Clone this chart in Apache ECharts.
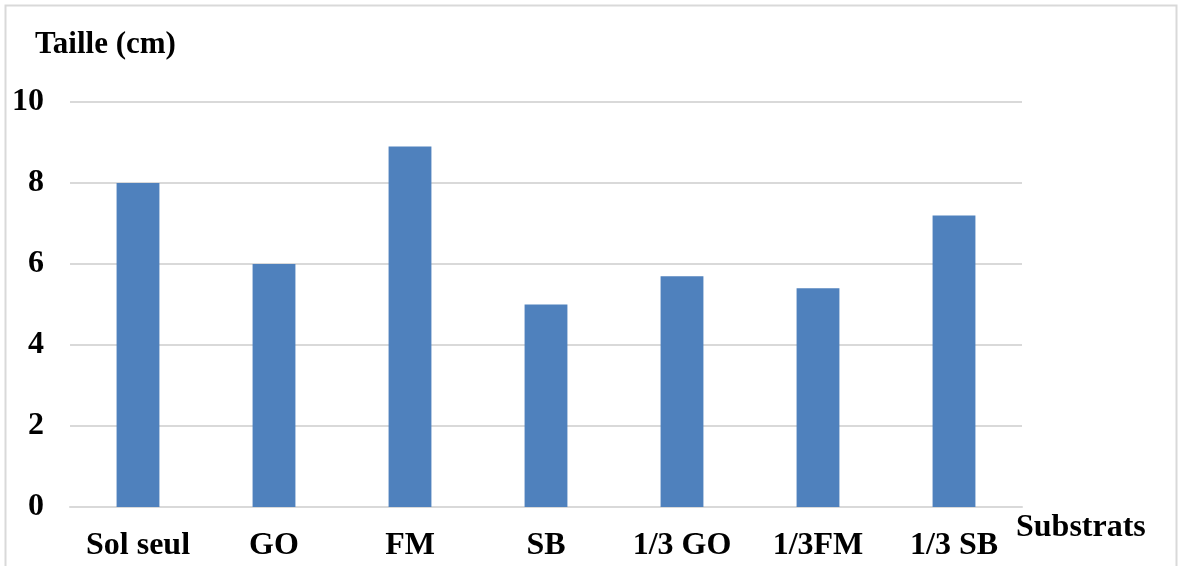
<!DOCTYPE html>
<html><head><meta charset="utf-8">
<script src="https://cdn.jsdelivr.net/npm/echarts@6/dist/echarts.min.js"></script>
<style>html,body{margin:0;padding:0;background:#fff}#c{width:1178px;height:566px}</style>
</head><body><div id="c"></div>
<script>
const categories = ['Sol seul', 'GO', 'FM', 'SB', '1/3 GO', '1/3FM', '1/3 SB'];
const tailleValues = [8.0, 6.0, 8.9, 5.0, 5.7, 5.4, 7.2];
const yTicks = [0, 2, 4, 6, 8, 10];
const yTitle = 'Taille (cm)';
const xTitle = 'Substrats';

const FONT = '"Liberation Serif", "Times New Roman", serif';
const chart = echarts.init(document.getElementById('c'), null, {renderer: 'canvas'});
chart.setOption({
  animation: false,
  backgroundColor: '#ffffff',
  grid: {left: 70, right: 156, top: 102, bottom: 59, containLabel: false},
  xAxis: {
    type: 'category',
    data: categories,
    axisLine: {show: true, lineStyle: {color: '#d9d9d9', width: 2}},
    axisTick: {show: false},
    axisLabel: {color: '#000', fontFamily: FONT, fontWeight: 'bold', fontSize: 32, margin: 23, interval: 0}
  },
  yAxis: {
    type: 'value',
    min: yTicks[0], max: yTicks[yTicks.length - 1], interval: 2,
    axisLine: {show: false},
    axisTick: {show: false},
    splitLine: {lineStyle: {color: '#d9d9d9', width: 2}},
    axisLabel: {color: '#000', fontFamily: FONT, fontWeight: 'bold', fontSize: 32, margin: 26}
  },
  graphic: [
    {type: 'rect', shape: {x: 5.5, y: 5.5, width: 1171, height: 600}, style: {fill: 'none', stroke: '#d9d9d9', lineWidth: 2}, silent: true},
    {type: 'text', left: 35, top: 29, style: {text: yTitle, fill: '#000', font: 'bold 31px ' + FONT}},
    {type: 'text', left: 1016, top: 512, style: {text: xTitle, fill: '#000', font: 'bold 32px ' + FONT}}
  ],
  series: [{
    type: 'bar',
    data: tailleValues,
    barWidth: '31.5%',
    itemStyle: {color: '#4f81bd'}
  }]
});
</script></body></html>
